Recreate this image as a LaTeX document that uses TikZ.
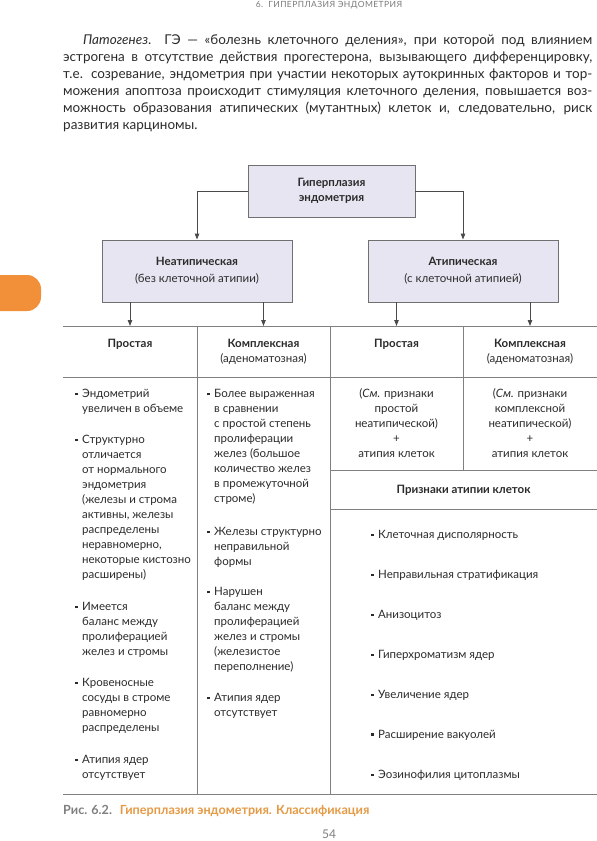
\documentclass[tikz,border=0pt]{standalone}
\usepackage{fontspec}
\setmainfont{Lato}
\newfontfamily\hdrfont[LetterSpace=5]{Lato}
\usetikzlibrary{arrows.meta}
\definecolor{txt}{HTML}{2B2B2B}
\definecolor{boxfill}{HTML}{E7E5F1}
\definecolor{boxline}{HTML}{707070}
\definecolor{linec}{HTML}{4A4A4A}
\definecolor{tablec}{HTML}{808080}
\definecolor{tabor}{HTML}{F2903A}
\definecolor{capgray}{HTML}{7F7F7F}
\definecolor{caporange}{HTML}{E59A45}
\definecolor{hdrgray}{HTML}{7A7A7A}
\newcommand\bul{\makebox[7pt][l]{\raisebox{2.2pt}{\rule{2.4pt}{2.4pt}}}}
\newcommand\ind{\hspace*{7pt}}
\newcommand\pline[1]{\hbox to 529pt{#1}}
\begin{document}
\begin{tikzpicture}[x=1pt,y=-1pt,
  box/.style={draw=boxline, fill=boxfill, line width=0.9pt, inner sep=0pt, align=center, text=txt},
  arr/.style={draw=linec, line width=0.9pt, -{Triangle[length=6pt,width=4.5pt]}},
  tline/.style={draw=tablec, line width=0.9pt},
  cell/.style={font=\fontsize{11.5}{15}\selectfont, text=txt, inner sep=0pt, align=left},
  ccell/.style={cell, align=center},
  hd/.style={cell, align=center, font=\bfseries\fontsize{11.5}{15}\selectfont},
]
\useasboundingbox (0,0) rectangle (597,841);
\fill[white] (0,0) rectangle (597,841);
% orange tab
\fill[tabor, rounded corners=14pt] (-30,275) rectangle (41,311);
% header
\node[font=\hdrfont\fontsize{8.5}{10}\selectfont, text=hdrgray, inner sep=0pt] (hdr) at (329,5.5) {6.\ \ ГИПЕРПЛАЗИЯ ЭНДОМЕТРИЯ};
% paragraph (base anchor = last line)
\node[anchor=base west, inner sep=0pt, align=left, font=\fontsize{13.5}{17}\selectfont, text=txt] (para) at (63,129.5) {%
\pline{\hspace*{20pt}\textit{Патогенез}.\ \ ГЭ — «болезнь клеточного деления», при которой под влиянием}\\
\pline{эстрогена в отсутствие действия прогестерона, вызывающего дифференцировку,}\\
\pline{т.е. созревание, эндометрия при участии некоторых аутокринных факторов и тор-}\\
\pline{можения апоптоза происходит стимуляция клеточного деления, повышается воз-}\\
\pline{можность образования атипических (мутантных) клеток и, следовательно, риск}\\
развития карциномы.};
% boxes
\node[box, minimum width=167pt, minimum height=52pt, font=\bfseries\fontsize{11.5}{15}\selectfont] (top) at (331.5,191) {Гиперплазия\\эндометрия};
\node[box, minimum width=190pt, minimum height=62pt, font=\fontsize{11.5}{17}\selectfont] (nl) at (197,271) {\textbf{Неатипическая}\\(без клеточной атипии)};
\node[box, minimum width=190pt, minimum height=62pt, font=\fontsize{11.5}{17}\selectfont] (at) at (463,271) {\textbf{Атипическая}\\(с клеточной атипией)};
\draw[arr] (top.west) -| (nl.north);
\draw[arr] (top.east) -| (at.north);
% table coordinates
\coordinate (TL) at (63,326); \coordinate (TR) at (597,326);
\coordinate (c1) at (130,326); \coordinate (c2) at (263.5,326);
\coordinate (c3) at (396.5,326); \coordinate (c4) at (530,326);
\coordinate (HL) at (63,377); \coordinate (HR) at (597,377);
\coordinate (ML) at (330,470); \coordinate (MR) at (597,470);
\coordinate (PL) at (330,509); \coordinate (PR) at (597,509);
\coordinate (BL) at (63,794); \coordinate (BR) at (597,794);
\coordinate (v1t) at (197,326); \coordinate (v1b) at (197,794);
\coordinate (v2t) at (330,326); \coordinate (v2b) at (330,794);
\coordinate (v3t) at (463,326); \coordinate (v3b) at (463,470);
\draw[tline] (TL) -- (TR);
\draw[tline] (HL) -- (HR);
\draw[tline] (ML) -- (MR);
\draw[tline] (PL) -- (PR);
\draw[tline] (BL) -- (BR);
\draw[tline] (v1t) -- (v1b);
\draw[tline] (v2t) -- (v2b);
\draw[tline] (v3t) -- (v3b);
\draw[arr] (nl.south -| c1) -- (c1);
\draw[arr] (nl.south -| c2) -- (c2);
\draw[arr] (at.south -| c3) -- (c3);
\draw[arr] (at.south -| c4) -- (c4);
% header cells (base anchor = last line)
\node[hd, anchor=base] (h1) at (130,347) {Простая};
\node[ccell, anchor=base] (h2) at (263.5,362) {\textbf{Комплексная}\\(аденоматозная)};
\node[hd, anchor=base] (h3) at (396.5,347) {Простая};
\node[ccell, anchor=base] (h4) at (530,362) {\textbf{Комплексная}\\(аденоматозная)};
% column 1
\node[cell, anchor=base west] (i11) at (75,412.5) {\bul Эндометрий\\\ind увеличен в объеме};
\node[cell, anchor=base west] (i12) at (75,578.5) {\bul Структурно\\\ind отличается\\\ind от нормального\\\ind эндометрия\\\ind (железы и строма\\\ind активны, железы\\\ind распределены\\\ind неравномерно,\\\ind некоторые кистозно\\\ind расширены)};
\node[cell, anchor=base west] (i13) at (75,655.5) {\bul Имеется\\\ind баланс между\\\ind пролиферацией\\\ind желез и стромы};
\node[cell, anchor=base west] (i14) at (75,731.5) {\bul Кровеносные\\\ind сосуды в строме\\\ind равномерно\\\ind распределены};
\node[cell, anchor=base west] (i15) at (75,778.5) {\bul Атипия ядер\\\ind отсутствует};
% column 2
\node[cell, anchor=base west] (i21) at (207,502.5) {\bul Более выраженная\\\ind в сравнении\\\ind с простой степень\\\ind пролиферации\\\ind желез (большое\\\ind количество желез\\\ind в промежуточной\\\ind строме)};
\node[cell, anchor=base west] (i22) at (207,565.5) {\bul Железы структурно\\\ind неправильной\\\ind формы};
\node[cell, anchor=base west] (i23) at (207,670.5) {\bul Нарушен\\\ind баланс между\\\ind пролиферацией\\\ind желез и стромы\\\ind (железистое\\\ind переполнение)};
\node[cell, anchor=base west] (i24) at (207,716.5) {\bul Атипия ядер\\\ind отсутствует};
% columns 3, 4
\node[ccell, anchor=base] (i31) at (396.5,457.5) {(\textit{См.} признаки\\простой\\неатипической)\\+\\атипия клеток};
\node[ccell, anchor=base] (i41) at (530,457.5) {(\textit{См.} признаки\\комплексной\\неатипической)\\+\\атипия клеток};
% signs of atypia
\node[hd, anchor=base] (pr) at (463.5,493) {Признаки атипии клеток};
\node[cell, anchor=base west] (p1) at (371,538.5) {\bul Клеточная дисполярность};
\node[cell, anchor=base west] (p2) at (371,578.5) {\bul Неправильная стратификация};
\node[cell, anchor=base west] (p3) at (371,618.5) {\bul Анизоцитоз};
\node[cell, anchor=base west] (p4) at (371,658.5) {\bul Гиперхроматизм ядер};
\node[cell, anchor=base west] (p5) at (371,698.5) {\bul Увеличение ядер};
\node[cell, anchor=base west] (p6) at (371,738) {\bul Расширение вакуолей};
\node[cell, anchor=base west] (p7) at (371,778.5) {\bul Эозинофилия цитоплазмы};
% caption
\node[anchor=base west, inner sep=0pt, font=\bfseries\fontsize{12.6}{14}\selectfont] (cap) at (63,814) {\textcolor{capgray}{Рис. 6.2.}\hspace{8pt}\textcolor{caporange}{Гиперплазия эндометрия. Классификация}};
\node[font=\fontsize{12}{14}\selectfont, text=capgray, inner sep=0pt] (pg) at (329,834) {54};
\end{tikzpicture}
\end{document}
